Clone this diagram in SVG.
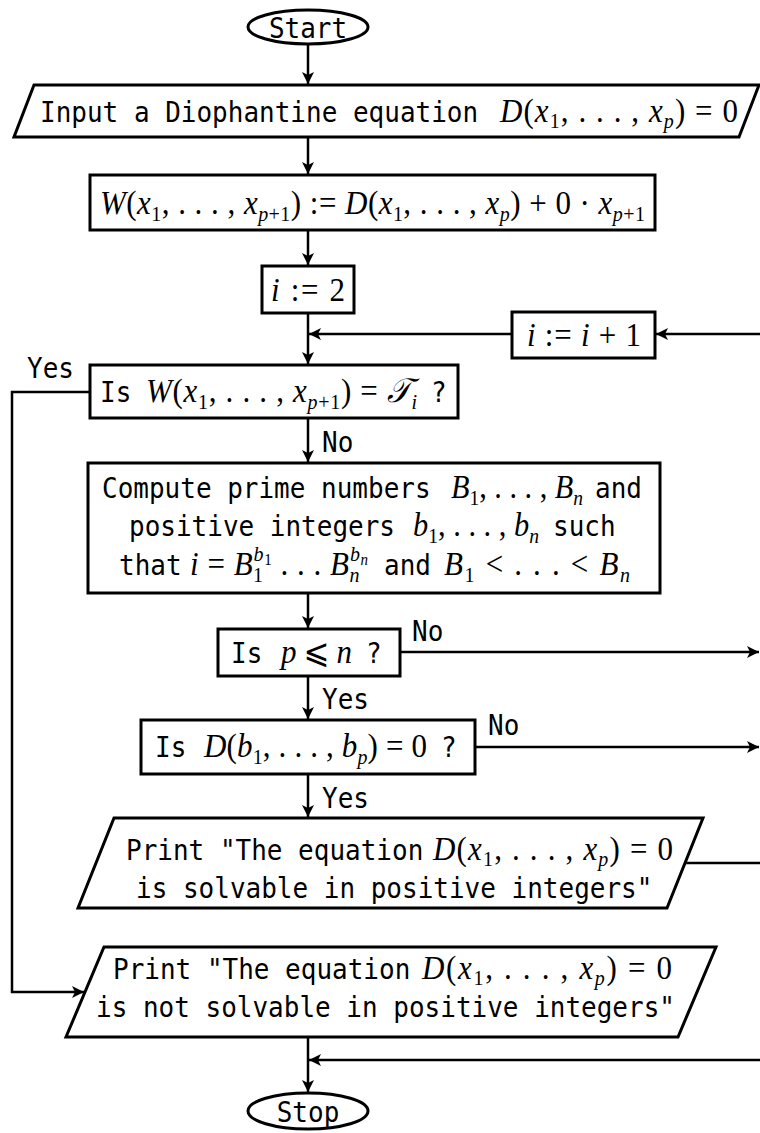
<svg xmlns="http://www.w3.org/2000/svg" width="760" height="1133" viewBox="0 0 760 1133">
<defs>
<style>
.sh{fill:#fff;stroke:#000;stroke-width:3}
.ln{fill:none;stroke:#000;stroke-width:2.5}
.ar{marker-end:url(#ah)}
.t{font-family:"DejaVu Sans Mono",monospace;font-size:26px;fill:#000}
.m{font-family:"Liberation Serif","DejaVu Serif","DejaVu Sans",serif;font-size:31px;fill:#000}
.i{font-style:italic}
.s{font-size:20px}
.ss{font-size:15px}
</style>
<marker id="ah" markerUnits="userSpaceOnUse" markerWidth="14" markerHeight="12" refX="12" refY="6" orient="auto"><path d="M0,0 L12,6 L0,12 L3,6 Z" fill="#000"/></marker>
</defs>
<rect width="760" height="1133" fill="#fff"/>

<g id="connectors">
<line class="ln ar" x1="308" y1="44" x2="308" y2="84"/>
<line class="ln ar" x1="308" y1="137" x2="308" y2="174"/>
<line class="ln ar" x1="308" y1="230" x2="308" y2="265"/>
<line class="ln ar" x1="308" y1="313" x2="308" y2="364"/>
<line class="ln ar" x1="760" y1="334" x2="656" y2="334"/>
<line class="ln ar" x1="512" y1="334" x2="309" y2="334"/>
<path class="ln ar" d="M90,392 H12 V992 H84"/>
<line class="ln ar" x1="308" y1="418" x2="308" y2="462"/>
<line class="ln ar" x1="308" y1="593" x2="308" y2="628"/>
<line class="ln ar" x1="400" y1="652" x2="759" y2="652"/>
<line class="ln ar" x1="308" y1="676" x2="308" y2="719"/>
<line class="ln ar" x1="475" y1="747" x2="759" y2="747"/>
<line class="ln ar" x1="308" y1="774" x2="308" y2="817"/>
<line class="ln" x1="685" y1="863" x2="760" y2="863"/>
<line class="ln ar" x1="308" y1="1037" x2="308" y2="1092"/>
<line class="ln ar" x1="760" y1="1060" x2="309" y2="1060"/>
<text class="t" transform="translate(27,378) scale(1,1.12)">Yes</text>
<text class="t" transform="translate(322,452) scale(1,1.12)">No</text>
<text class="t" transform="translate(412,641) scale(1,1.12)">No</text>
<text class="t" transform="translate(322,709) scale(1,1.12)">Yes</text>
<text class="t" transform="translate(488,735) scale(1,1.12)">No</text>
<text class="t" transform="translate(322,808) scale(1,1.12)">Yes</text>
</g>

<g id="start">
<ellipse class="sh" cx="308" cy="27" rx="60" ry="17"/>
<text class="t" transform="translate(308,37.5) scale(1,1.12)" text-anchor="middle">Start</text>
</g>

<g id="input">
<polygon class="sh" points="34,85 759,85 739,137 14,137"/>
<text class="t" transform="translate(40,121.5) scale(1,1.12)">Input a Diophantine equation</text>
<text class="m" transform="translate(500,121.5) scale(1,1.1)" textLength="238"><tspan class="i">D</tspan>(<tspan class="i">x</tspan><tspan class="s" dy="6">1</tspan><tspan dy="-6">, . . . , </tspan><tspan class="i">x</tspan><tspan class="s i" dy="6">p</tspan><tspan dy="-6">) = 0</tspan></text>
</g>

<g id="assignW">
<rect class="sh" x="90" y="175" width="565" height="55"/>
<text class="m" transform="translate(100,214) scale(1,1.1)" textLength="545"><tspan class="i">W</tspan>(<tspan class="i">x</tspan><tspan class="s" dy="6">1</tspan><tspan dy="-6">, . . . , </tspan><tspan class="i">x</tspan><tspan class="s" dy="6"><tspan class="i">p</tspan>+1</tspan><tspan dy="-6">) := </tspan><tspan class="i">D</tspan>(<tspan class="i">x</tspan><tspan class="s" dy="6">1</tspan><tspan dy="-6">, . . . , </tspan><tspan class="i">x</tspan><tspan class="s i" dy="6">p</tspan><tspan dy="-6">) + 0 · </tspan><tspan class="i">x</tspan><tspan class="s" dy="6"><tspan class="i">p</tspan>+1</tspan></text>
</g>

<g id="init">
<rect class="sh" x="262" y="266" width="92" height="47"/>
<text class="m" transform="translate(271,301) scale(1,1.1)" textLength="74"><tspan class="i">i</tspan> := 2</text>
</g>

<g id="incr">
<rect class="sh" x="512" y="312" width="143" height="46"/>
<text class="m" transform="translate(527,346) scale(1,1.1)" textLength="114"><tspan class="i">i</tspan> := <tspan class="i">i</tspan> + 1</text>
</g>

<g id="testW">
<rect class="sh" x="90" y="365" width="368" height="53"/>
<text class="t" transform="translate(100,402) scale(1,1.12)">Is</text>
<text class="m" transform="translate(146,402) scale(1,1.1)" textLength="271"><tspan class="i">W</tspan>(<tspan class="i">x</tspan><tspan class="s" dy="6">1</tspan><tspan dy="-6">, . . . , </tspan><tspan class="i">x</tspan><tspan class="s" dy="6"><tspan class="i">p</tspan>+1</tspan><tspan dy="-6">) = </tspan><tspan class="i">&#x1D4AF;</tspan><tspan class="s i" dy="6">i</tspan></text>
<text class="t" transform="translate(431,402) scale(1,1.12)">?</text>
</g>

<g id="compute">
<rect class="sh" x="88" y="463" width="572" height="130"/>
<text class="t" transform="translate(102,498) scale(1,1.12)">Compute prime numbers</text>
<text class="m" transform="translate(451,498) scale(1,1.1)" textLength="132" lengthAdjust="spacingAndGlyphs"><tspan class="i">B</tspan><tspan class="s" dy="6">1</tspan><tspan dy="-6">, . . . , </tspan><tspan class="i">B</tspan><tspan class="s i" dy="6">n</tspan></text>
<text class="t" transform="translate(595,498) scale(1,1.12)">and</text>
<text class="t" transform="translate(129,536) scale(1,1.12)">positive integers</text>
<text class="m" transform="translate(413,536) scale(1,1.1)" textLength="126" lengthAdjust="spacingAndGlyphs"><tspan class="i">b</tspan><tspan class="s" dy="6">1</tspan><tspan dy="-6">, . . . , </tspan><tspan class="i">b</tspan><tspan class="s i" dy="6">n</tspan></text>
<text class="t" transform="translate(553,536) scale(1,1.12)">such</text>
<text class="t" transform="translate(119,575) scale(1,1.12)">that</text>
<text class="m" transform="translate(190,575) scale(1,1.1)" textLength="178"><tspan class="i">i</tspan> = <tspan class="i">B</tspan><tspan class="s" dy="6">1</tspan><tspan class="s i" dx="-10" dy="-19">b</tspan><tspan class="ss" dy="4">1</tspan><tspan dy="9"> . . . </tspan><tspan class="i">B</tspan><tspan class="s i" dy="6">n</tspan><tspan class="s i" dx="-10" dy="-19">b</tspan><tspan class="ss i" dy="4">n</tspan></text>
<text class="t" transform="translate(384,575) scale(1,1.12)">and</text>
<text class="m" transform="translate(444,575) scale(1,1.1)" textLength="186"><tspan class="i">B</tspan><tspan class="s" dy="6">1</tspan><tspan dy="-6"> &lt; . . . &lt; </tspan><tspan class="i">B</tspan><tspan class="s i" dy="6">n</tspan></text>
</g>

<g id="testP">
<rect class="sh" x="218" y="629" width="182" height="47"/>
<text class="t" transform="translate(231,663) scale(1,1.12)">Is</text>
<text class="m" transform="translate(281,663) scale(1,1.1)" textLength="71"><tspan class="i">p</tspan> &#x2A7D; <tspan class="i">n</tspan></text>
<text class="t" transform="translate(366,663) scale(1,1.12)">?</text>
</g>

<g id="testD">
<rect class="sh" x="141" y="720" width="334" height="54"/>
<text class="t" transform="translate(155,757) scale(1,1.12)">Is</text>
<text class="m" transform="translate(204,757) scale(1,1.1)" textLength="223"><tspan class="i">D</tspan>(<tspan class="i">b</tspan><tspan class="s" dy="6">1</tspan><tspan dy="-6">, . . . , </tspan><tspan class="i">b</tspan><tspan class="s i" dy="6">p</tspan><tspan dy="-6">) = 0</tspan></text>
<text class="t" transform="translate(441,757) scale(1,1.12)">?</text>
</g>

<g id="printYes">
<polygon class="sh" points="114,818 703,818 667,908 78,908"/>
<text class="t" transform="translate(126,860) scale(1,1.12)">Print "The equation</text>
<text class="m" transform="translate(433,860) scale(1,1.1)" textLength="240"><tspan class="i">D</tspan>(<tspan class="i">x</tspan><tspan class="s" dy="5">1</tspan><tspan dy="-5">, . . . , </tspan><tspan class="i">x</tspan><tspan class="s i" dy="5">p</tspan><tspan dy="-5">) = 0</tspan></text>
<text class="t" transform="translate(136,898) scale(1,1.12)">is solvable in positive integers"</text>
</g>

<g id="printNo">
<polygon class="sh" points="104,947 716,947 678,1037 66,1037"/>
<text class="t" transform="translate(113,979) scale(1,1.12)">Print "The equation</text>
<text class="m" transform="translate(422,979) scale(1,1.1)" textLength="250"><tspan class="i">D</tspan>(<tspan class="i">x</tspan><tspan class="s" dy="5">1</tspan><tspan dy="-5">, . . . , </tspan><tspan class="i">x</tspan><tspan class="s i" dy="5">p</tspan><tspan dy="-5">) = 0</tspan></text>
<text class="t" transform="translate(96,1017) scale(1,1.12)">is not solvable in positive integers"</text>
</g>

<g id="stop">
<ellipse class="sh" cx="308" cy="1111" rx="60" ry="18"/>
<text class="t" transform="translate(308,1121.5) scale(1,1.12)" text-anchor="middle">Stop</text>
</g>
</svg>
